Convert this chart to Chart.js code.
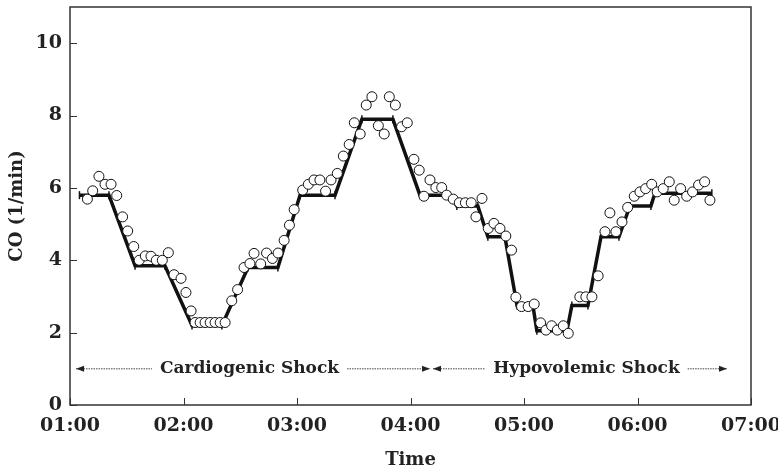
<!DOCTYPE html>
<html><head><meta charset="utf-8">
<script src="https://cdn.jsdelivr.net/npm/chart.js@4/dist/chart.umd.min.js"></script>
<style>html,body{margin:0;padding:0;background:#fff;}canvas{display:block;}</style>
</head><body>
<canvas id="c" width="778" height="472"></canvas>
<script>
// time in minutes since 00:00
const circleTimes = [69.2,72.0,75.3,78.5,81.7,84.7,87.8,90.5,93.7,96.6,99.8,102.8,105.6,108.8,112.0,115.0,118.7,121.3,124.0,126.1,128.8,131.4,134.1,136.7,139.4,142.0,145.5,148.6,152.0,155.1,157.3,160.8,163.9,167.0,170.0,173.2,176.0,178.5,183.0,186.0,189.0,192.1,195.1,198.0,201.3,204.5,207.6,210.3,213.4,216.6,219.6,223.0,226.1,228.8,232.0,235.3,238.3,241.8,244.6,247.1,250.3,253.4,256.5,259.1,262.6,265.8,269.0,272.1,274.6,277.8,281.1,284.1,287.3,290.4,293.4,295.7,298.7,302.2,305.4,308.8,311.6,314.6,317.6,320.8,323.4,329.5,332.7,335.9,339.2,342.8,345.4,348.6,351.8,354.8,358.3,361.3,364.3,367.5,370.4,373.6,376.8,379.4,382.8,386.0,389.1,392.3,395.5,398.3];
const circleValues = [5.69,5.92,6.32,6.10,6.10,5.79,5.20,4.81,4.38,4.00,4.12,4.11,4.00,4.00,4.21,3.60,3.50,3.11,2.60,2.28,2.28,2.28,2.28,2.28,2.28,2.28,2.88,3.19,3.80,3.91,4.19,3.90,4.20,4.05,4.20,4.55,4.97,5.40,5.94,6.10,6.22,6.22,5.91,6.22,6.40,6.88,7.20,7.80,7.49,8.29,8.52,7.72,7.49,8.52,8.29,7.69,7.80,6.79,6.49,5.77,6.22,6.01,6.01,5.80,5.69,5.59,5.59,5.59,5.20,5.71,4.88,5.02,4.88,4.67,4.28,2.98,2.72,2.72,2.79,2.27,2.07,2.19,2.07,2.19,1.98,2.99,2.99,2.99,3.57,4.79,5.31,4.79,5.06,5.46,5.77,5.89,5.98,6.10,5.89,5.98,6.17,5.66,5.98,5.77,5.89,6.08,6.17,5.66];
const stepTimes = [65,80.6,94.4,110.2,124.5,140.3,154.1,169.9,181.6,200.1,214.3,230.7,245,260.8,264.5,275.6,280.9,289.9,296.3,304.7,306.8,322.7,325.3,333.8,340.7,350.2,356,367.1,369.2,399.3];
const stepValues = [5.8,5.8,3.85,3.85,2.2,2.2,3.8,3.8,5.8,5.8,7.9,7.9,5.8,5.8,5.5,5.5,4.65,4.65,2.75,2.75,2.05,2.05,2.75,2.75,4.65,4.65,5.5,5.5,5.85,5.85];
const xTickLabels = ['01:00','02:00','03:00','04:00','05:00','06:00','07:00'];
const yTickValues = [0,2,4,6,8,10];
const phaseLabels = ['Cardiogenic Shock','Hypovolemic Shock'];
const phaseStart = [63.2,251.9];
const phaseEnd = [250.3,407.3];
const phaseTextAt = [154.9,333];
const phaseLevel = 1.0;

const FONT = "'DejaVu Serif', serif";

const framePlugin = {
  id: 'frame',
  afterDraw(chart) {
    const {ctx, chartArea: a, scales: {x, y}} = chart;
    ctx.save();
    ctx.strokeStyle = '#333';
    ctx.lineWidth = 1.5;
    ctx.strokeRect(a.left, a.top, a.right - a.left, a.bottom - a.top);
    ctx.lineWidth = 1;
    ctx.beginPath();
    y.ticks.forEach(t => { const py = Math.round(y.getPixelForValue(t.value)) + 0.5; ctx.moveTo(a.left, py); ctx.lineTo(a.left + 7, py); });
    x.ticks.forEach(t => { const px = Math.round(x.getPixelForValue(t.value)) + 0.5; ctx.moveTo(px, a.bottom); ctx.lineTo(px, a.bottom - 7); });
    ctx.stroke();
    // phase annotations
    ctx.font = "bold 17px " + FONT;
    ctx.fillStyle = '#222';
    ctx.textAlign = 'center';
    ctx.textBaseline = 'middle';
    const py = y.getPixelForValue(phaseLevel);
    const arrow = (xt, dir) => {
      ctx.beginPath();
      ctx.moveTo(xt, py);
      ctx.lineTo(xt - dir * 8, py - 3);
      ctx.lineTo(xt - dir * 8, py + 3);
      ctx.closePath();
      ctx.fill();
    };
    phaseLabels.forEach((lab, i) => {
      const xs = x.getPixelForValue(phaseStart[i]);
      const xe = x.getPixelForValue(phaseEnd[i]);
      const xc = x.getPixelForValue(phaseTextAt[i]);
      const w = ctx.measureText(lab).width;
      ctx.fillText(lab, xc, py);
      ctx.save();
      ctx.strokeStyle = '#444';
      ctx.lineWidth = 1;
      ctx.setLineDash([1.5, 1]);
      ctx.beginPath();
      ctx.moveTo(xs, py); ctx.lineTo(xc - w / 2 - 8, py);
      ctx.moveTo(xc + w / 2 + 8, py); ctx.lineTo(xe, py);
      ctx.stroke();
      ctx.restore();
      arrow(xs, -1);
      arrow(xe, 1);
    });
    ctx.restore();
  }
};

new Chart(document.getElementById('c'), {
  type: 'scatter',
  data: {
    datasets: [
      {
        label: 'measured',
        data: circleTimes.map((t, i) => ({x: t, y: circleValues[i]})),
        pointRadius: 5,
        pointBackgroundColor: '#fff',
        pointBorderColor: '#111',
        pointBorderWidth: 1,
        showLine: false
      },
      {
        label: 'reference',
        data: stepTimes.map((t, i) => ({x: t, y: stepValues[i]})),
        showLine: true,
        borderColor: '#111',
        borderWidth: 3.5,
        pointStyle: 'line',
        rotation: 90,
        pointRadius: 4,
        pointBorderColor: '#111',
        pointBorderWidth: 1.5,
        fill: false
      }
    ]
  },
  options: {
    responsive: false,
    devicePixelRatio: 1,
    animation: false,
    layout: {padding: {top: 7, right: 27, left: 0, bottom: 0}},
    plugins: {legend: {display: false}, tooltip: {enabled: false}},
    scales: {
      x: {
        type: 'linear', min: 60, max: 420,
        grid: {display: false, drawTicks: false},
        border: {display: false},
        ticks: {
          stepSize: 60, padding: 10, color: '#222',
          font: {family: FONT, size: 19, weight: 'bold'},
          callback: v => xTickLabels[Math.round((v - 60) / 60)]
        },
        title: {display: true, text: 'Time', color: '#222', padding: {top: 0, bottom: 1},
          font: {family: FONT, size: 18, weight: 'bold'}},
        afterFit(s) { s.height = 67; s.paddingLeft = 0; s.paddingRight = 0; }
      },
      y: {
        type: 'linear', min: 0, max: 11,
        grid: {display: false, drawTicks: false},
        border: {display: false},
        afterBuildTicks(s) { s.ticks = yTickValues.map(v => ({value: v})); },
        ticks: {padding: 8, color: '#222', font: {family: FONT, size: 19, weight: 'bold'}},
        title: {display: true, text: 'CO (1/min)', color: '#222', padding: {top: 7, bottom: 0},
          font: {family: FONT, size: 18, weight: 'bold'}},
        afterFit(s) { s.width = 70; s.paddingTop = 0; s.paddingBottom = 0; }
      }
    }
  },
  plugins: [framePlugin]
});
</script>
</body></html>
